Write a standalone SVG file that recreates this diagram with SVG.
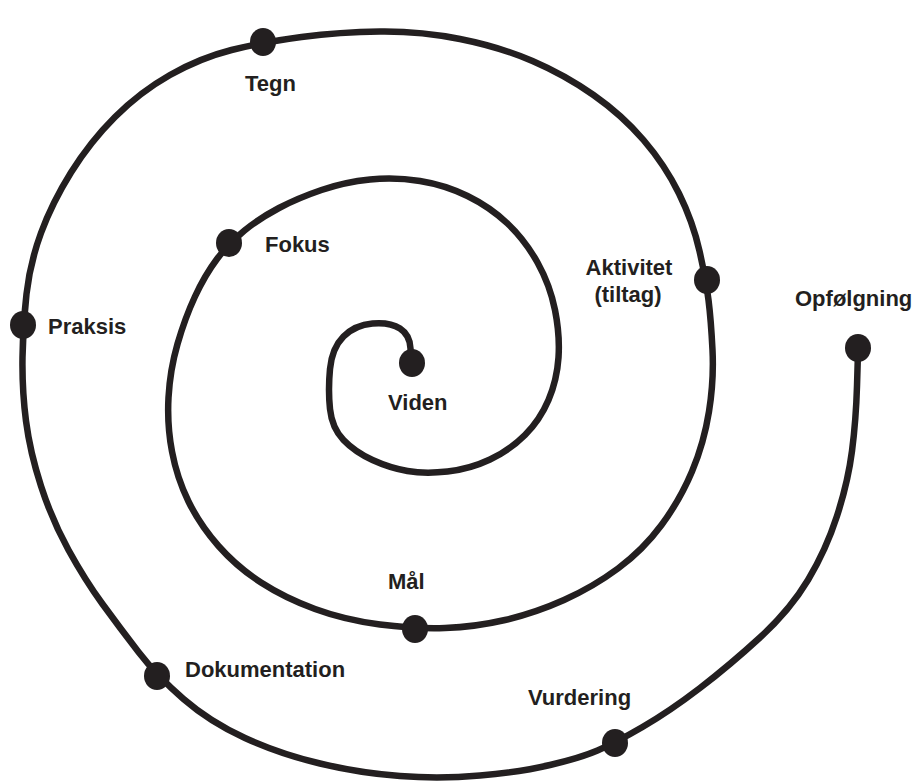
<svg xmlns="http://www.w3.org/2000/svg" width="916" height="782" viewBox="0 0 916 782">
<style>
.lbl{font-family:"Liberation Sans",Arial,sans-serif;font-weight:bold;font-size:22px;fill:#231f20}
.dot{fill:#231f20}
.spiral{fill:none;stroke:#231f20;stroke-width:6.5;stroke-linecap:round;stroke-linejoin:round}
</style>
<rect width="916" height="782" fill="#ffffff"/>
<g id="connectors">
<path class="spiral" d="M411,362 L410.5,348.5 Q410,335 400,328.5 Q390,322 372.5,323.5 Q355,325 343.5,336.5 Q332,348 330,369 Q328,390 330,409 Q332,428 343.5,440 Q355,452 372.5,460 Q390,468 407.5,471 Q425,474 447.5,471.5 Q470,469 490,459.5 Q510,450 525,435 Q540,420 548.5,400 Q557,380 558.5,357.5 Q560,335 555,310 Q550,285 537.5,262.5 Q525,240 507.5,223.5 Q490,207 467.5,196 Q445,185 420,181 Q395,177 370,179.5 Q345,182 321.5,190 Q298,198 279,208 Q260,218 244.5,230.5 Q229,243 217,259 Q205,275 195,296.5 Q185,318 177.5,344 Q170,370 168.5,397.5 Q167,425 172,451.5 Q177,478 188.5,501.5 Q200,525 218.5,546 Q237,567 261,582.5 Q285,598 315,609 Q345,620 380,624.5 Q415,629 445,628 Q475,627 505,620 Q535,613 564,600 Q593,587 618,568.5 Q643,550 661.5,525 Q680,500 692,471.5 Q704,443 709,411.5 Q714,380 712.5,350 Q711,320 708.5,300 Q706,280 699.5,251 Q693,222 679,193.5 Q665,165 643.5,140 Q622,115 593.5,95 Q565,75 532.5,61 Q500,47 460,39 Q420,31 380,31.5 Q340,32 301.5,37 Q263,42 231.5,50 Q200,58 170,75 Q140,92 115,117 Q90,142 71,172.5 Q52,203 41,233 Q30,263 26.5,294 Q23,325 22.5,357.5 Q22,390 26,421 Q30,452 41,486 Q52,520 68.5,550 Q85,580 102.5,604 Q120,628 138.5,652 Q157,676 183.5,699 Q210,722 245,738 Q280,754 320,763.5 Q360,773 400,776 Q440,779 480,775.5 Q520,772 550,765 Q580,758 597.5,750.5 Q615,743 642.5,727 Q670,711 700,688 Q730,665 760,637.5 Q790,610 808,580 Q826,550 837,516 Q848,482 852,451 Q856,420 857,386 L858,352"/>
</g>
<g id="viden"><ellipse class="dot" cx="412" cy="363" rx="13" ry="14"/><text class="lbl" x="388" y="410">Viden</text></g>
<g id="fokus"><ellipse class="dot" cx="229" cy="243" rx="13" ry="14"/><text class="lbl" x="265" y="252">Fokus</text></g>
<g id="aktivitet"><ellipse class="dot" cx="707" cy="280" rx="13" ry="14"/><text class="lbl" x="629" y="275" text-anchor="middle">Aktivitet</text><text class="lbl" x="628" y="302" text-anchor="middle">(tiltag)</text></g>
<g id="tegn"><ellipse class="dot" cx="263" cy="42" rx="13" ry="14"/><text class="lbl" x="245" y="91">Tegn</text></g>
<g id="praksis"><ellipse class="dot" cx="23" cy="325" rx="13" ry="14"/><text class="lbl" x="48" y="334">Praksis</text></g>
<g id="maal"><ellipse class="dot" cx="415" cy="629" rx="13" ry="14"/><text class="lbl" x="388" y="589">Mål</text></g>
<g id="dokumentation"><ellipse class="dot" cx="157" cy="676" rx="13" ry="14"/><text class="lbl" x="185" y="677">Dokumentation</text></g>
<g id="vurdering"><ellipse class="dot" cx="615" cy="743" rx="13" ry="14"/><text class="lbl" x="528" y="705">Vurdering</text></g>
<g id="opfoelgning"><ellipse class="dot" cx="858" cy="348" rx="13" ry="14"/><text class="lbl" x="795" y="306">Opfølgning</text></g>
</svg>
